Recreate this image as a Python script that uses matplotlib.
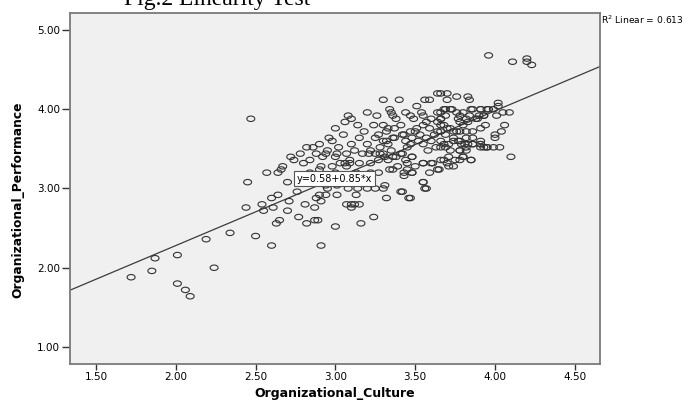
import numpy as np
import matplotlib
matplotlib.use("Agg")
import matplotlib.pyplot as plt
from matplotlib.path import Path

# Values (Organizational_Culture, Organizational_Performance)
low_x = [1.72, 1.85, 1.87, 2.01, 2.01, 2.06, 2.09, 2.19, 2.24, 2.34, 2.45, 2.44, 2.50, 2.54,
         2.55, 2.60, 2.61, 2.60, 2.63, 2.64, 2.47, 2.57]
low_y = [1.88, 1.96, 2.12, 2.16, 1.80, 1.72, 1.64, 2.36, 2.00, 2.44, 3.08, 2.76, 2.40, 2.80,
         2.72, 2.88, 2.76, 2.28, 2.56, 2.92, 3.88, 3.20]

mid_x = [2.91, 3.00, 3.16, 3.24, 2.82, 2.77, 2.87, 2.89, 2.65, 2.70, 2.71, 2.81, 2.87, 2.91,
         2.88, 2.90, 2.94, 3.01, 3.07, 3.10, 3.12, 3.15, 3.10, 3.13, 3.08, 3.14, 3.20, 3.25,
         3.30, 3.32, 3.42, 3.46, 3.55, 3.57, 2.76, 2.95, 2.94, 3.01, 3.10, 3.13, 3.22, 3.27,
         3.36, 3.43, 3.48, 3.55, 3.61, 3.65, 3.71, 2.74, 2.64, 2.66, 2.67, 2.91, 3.00, 3.01,
         3.07, 3.09, 3.09, 3.07, 2.94, 3.17, 3.21, 3.25, 3.30, 3.15, 3.22, 3.27, 3.33, 3.38,
         3.42, 3.45, 3.48, 3.03, 3.06]
mid_y = [2.28, 2.52, 2.56, 2.64, 2.56, 2.64, 2.60, 2.60, 2.60, 2.72, 2.84, 2.80, 2.76, 2.84,
         2.88, 2.92, 2.92, 2.92, 2.80, 2.80, 2.80, 2.80, 2.76, 2.92, 3.00, 3.00, 3.00, 3.00,
         3.00, 2.88, 2.96, 2.88, 3.08, 3.00, 2.96, 3.00, 3.04, 3.04, 3.08, 3.20, 3.20, 3.20,
         3.24, 3.16, 3.20, 3.32, 3.32, 3.24, 3.28, 3.36, 3.20, 3.24, 3.28, 3.28, 3.40, 3.44,
         3.44, 3.36, 3.32, 3.28, 3.44, 3.44, 3.44, 3.44, 3.44, 3.32, 3.32, 3.36, 3.36, 3.40,
         3.44, 3.32, 3.40, 3.32, 3.32]

upper_x = [2.86, 2.90, 2.95, 2.98, 3.02, 3.05, 3.06, 3.08, 3.10, 3.10, 3.12, 3.15, 3.18, 3.20,
           3.22, 3.24, 3.25, 3.27, 3.28, 3.30, 3.32, 3.33, 3.35, 3.36, 3.38, 3.42, 3.44, 3.45,
           3.47, 3.48, 3.50, 3.52, 3.53, 3.55, 3.57, 3.58, 3.60, 3.62, 3.63, 3.00, 2.96, 3.14,
           3.20, 3.26, 3.30, 2.92, 2.88, 2.84, 2.80, 2.78, 2.82, 2.72, 2.86, 2.95, 3.00, 2.98,
           2.90, 2.84, 2.80, 2.70]
upper_y = [3.52, 3.56, 3.48, 3.60, 3.52, 3.68, 3.84, 3.92, 3.88, 3.56, 3.48, 3.64, 3.72, 3.56,
           3.48, 3.80, 3.64, 3.68, 3.52, 3.60, 3.72, 3.56, 3.48, 3.64, 3.88, 3.68, 3.60, 3.52,
           3.56, 3.64, 3.72, 3.60, 3.68, 3.56, 3.64, 3.48, 3.60, 3.68, 3.52, 3.76, 3.64, 3.80,
           3.96, 3.92, 4.12, 3.40, 3.44, 3.36, 3.32, 3.44, 3.52, 3.40, 3.12, 3.16, 3.20, 3.28,
           3.24, 3.20, 3.08, 3.08]

dense_x = [3.34, 3.35, 3.36, 3.44, 3.47, 3.49, 3.51, 3.54, 3.55, 3.57, 3.60, 3.64, 3.66, 3.69,
           3.72, 3.69, 3.66, 3.78, 3.78, 3.85, 3.91, 3.96, 3.93, 3.88, 3.83, 3.80,
           3.30, 3.33, 3.37, 3.41, 3.32, 3.37, 3.43, 3.47, 3.51, 3.55, 3.59, 3.64, 3.68, 3.72,
           3.76, 3.64, 3.69, 3.74, 3.78, 3.82, 3.86, 3.91, 3.95, 3.99, 3.91, 3.86, 3.82, 3.78,
           3.28, 3.31, 3.36, 3.41, 3.44, 3.48, 3.34, 3.39, 3.45, 3.50, 3.55, 3.60, 3.66, 3.70,
           3.75, 3.80, 3.85, 3.64, 3.59, 3.43, 3.48, 3.41, 3.55, 3.56, 3.47, 3.31]
dense_y = [4.00, 3.96, 3.92, 3.96, 3.92, 3.88, 4.04, 3.96, 3.92, 3.84, 3.88, 3.96, 3.96, 4.00,
           4.00, 3.92, 3.88, 3.92, 3.84, 4.00, 4.00, 4.00, 3.92, 3.88, 3.84, 3.80,
           3.80, 3.76, 3.76, 3.80, 3.60, 3.64, 3.68, 3.72, 3.76, 3.80, 3.76, 3.84, 3.80, 3.76,
           3.72, 3.72, 3.68, 3.64, 3.60, 3.64, 3.64, 3.56, 3.52, 3.52, 3.52, 3.56, 3.52, 3.48,
           3.44, 3.40, 3.40, 3.44, 3.36, 3.40, 3.24, 3.28, 3.24, 3.28, 3.32, 3.32, 3.36, 3.32,
           3.36, 3.40, 3.36, 3.24, 3.20, 3.20, 3.20, 2.96, 3.08, 3.00, 2.88, 3.04]

high_x = [3.96, 4.11, 4.20, 4.20, 4.23, 3.40, 3.56, 3.59, 3.64, 3.70, 3.70, 3.76, 3.83, 3.84,
          4.02, 4.02, 4.09, 4.01, 4.05, 4.10, 4.03, 4.00, 4.00, 3.95, 3.93, 3.91, 3.86, 3.83,
          3.81, 3.79, 3.85, 3.80, 3.78, 3.74, 3.71, 3.68, 3.66, 3.86, 3.91, 3.95, 3.99, 3.73,
          3.68, 3.80, 3.76, 3.84, 3.90, 3.93, 3.77, 3.82, 3.89, 3.94, 3.91, 3.86, 3.82, 3.78,
          3.74, 3.70, 3.91, 3.77, 3.74, 3.71, 3.68, 3.78, 3.82, 3.72, 3.69, 3.66, 3.66, 3.66,
          3.66, 3.66, 4.04, 4.06]
high_y = [4.68, 4.60, 4.64, 4.60, 4.56, 4.12, 4.12, 4.12, 4.20, 4.20, 4.12, 4.16, 4.16, 4.12,
          4.08, 4.04, 3.96, 3.92, 3.96, 3.40, 3.52, 3.68, 3.64, 3.52, 3.52, 3.56, 3.56, 3.56,
          3.56, 3.56, 3.36, 3.40, 3.36, 3.28, 3.40, 3.36, 4.20, 4.00, 4.00, 4.00, 4.00, 4.00,
          4.00, 3.96, 3.96, 3.92, 3.92, 3.92, 3.88, 3.88, 3.88, 3.80, 3.76, 3.72, 3.72, 3.72,
          3.72, 3.76, 3.60, 3.60, 3.60, 3.56, 3.56, 3.48, 3.48, 3.48, 3.52, 3.88, 3.80, 3.72,
          3.60, 3.52, 3.72, 3.80]

culture = np.array(low_x + mid_x + upper_x + dense_x + high_x)
performance = np.array(low_y + mid_y + upper_y + dense_y + high_y)

# fit line as printed on the chart
intercept = 0.58
slope = 0.85
r_squared = 0.613

x_ticks = [1.5, 2.0, 2.5, 3.0, 3.5, 4.0, 4.5]
y_ticks = [1.0, 2.0, 3.0, 4.0, 5.0]

# circles in the picture are a little squashed, so use an ellipse marker
t = np.linspace(0, 2 * np.pi, 41)
ellipse = Path(np.column_stack([np.cos(t), 0.68 * np.sin(t)]))

fig = plt.figure(figsize=(6.95, 4.01), dpi=100)
ax = fig.add_axes([70 / 695, 37 / 401, 530 / 695, 351 / 401])
ax.set_facecolor('#f0f0f0')

ax.scatter(culture, performance, marker=ellipse, s=33, facecolors='none',
           edgecolors='#333333', linewidths=0.8, zorder=3)
ax.axline((0, intercept), slope=slope, color='#3c3c3c', lw=0.9, zorder=2)

ax.set_xlim(1.337, 4.658)
ax.set_ylim(0.785, 5.215)
ax.set_xticks(x_ticks)
ax.set_yticks(y_ticks)
ax.set_xticklabels([f'{v:.2f}' for v in x_ticks])
ax.set_yticklabels([f'{v:.2f}' for v in y_ticks])
ax.tick_params(axis='both', direction='out', labelsize=7.5, color='#333333', width=1)
ax.tick_params(axis='x', length=4, pad=2)
ax.tick_params(axis='y', length=6, pad=1)

for side in ['top', 'right', 'left', 'bottom']:
    ax.spines[side].set_color('#7a7a7a')
    ax.spines[side].set_linewidth(1.3)

ax.set_xlabel('Organizational_Culture', fontsize=9, fontweight='bold')
ax.xaxis.set_label_coords(0.5, -0.066)
ax.set_ylabel('Organizational_Performance', fontsize=8.8, fontweight='bold')
ax.yaxis.set_label_coords(-0.087, 0.467)

ax.text(2.995, 3.124, f'y={intercept}+{slope}*x', fontsize=7, ha='center', va='center',
        zorder=4, bbox=dict(boxstyle='square,pad=0.25', fc='white', ec='#555555', lw=0.8))

fig.text(601 / 695, 1 - 24 / 401, f'R$^2$ Linear = {r_squared}', fontsize=6.6,
         ha='left', va='baseline')

fig.text(124 / 695, 1 - 5 / 401, 'Fig.2 Linearity Test', fontsize=17,
         family='Liberation Serif', ha='left', va='baseline')

fig.savefig('out.png', dpi=100)
